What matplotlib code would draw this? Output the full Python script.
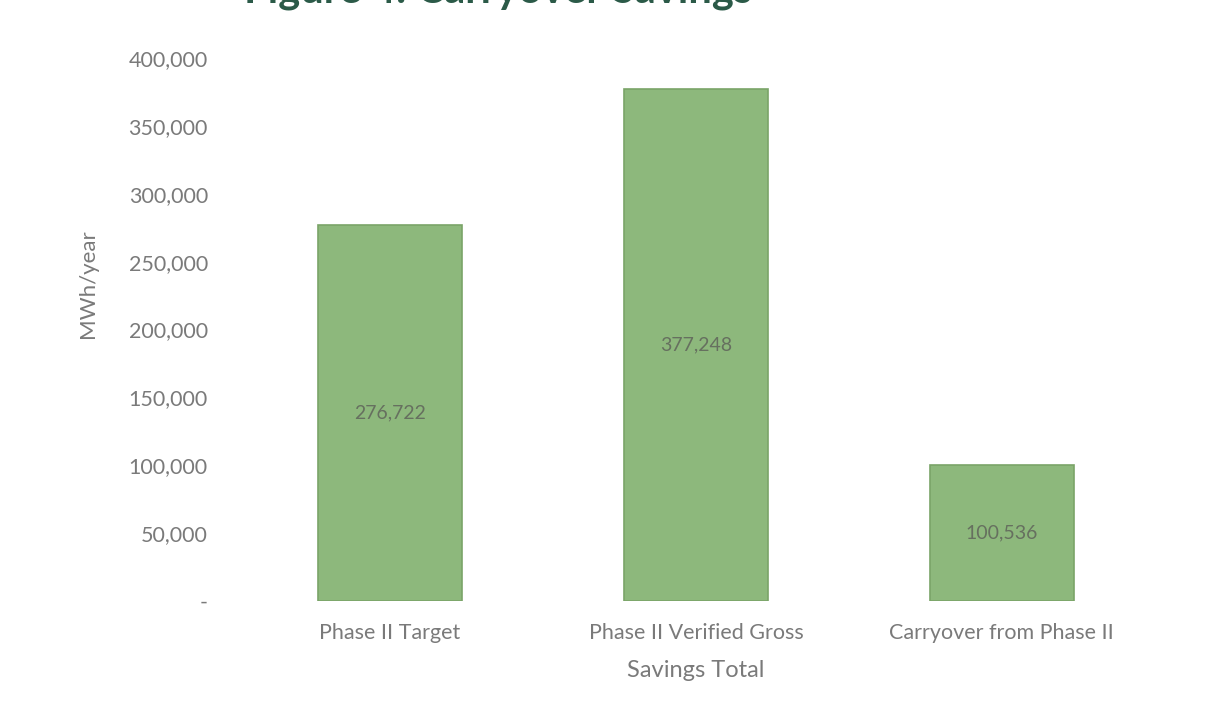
import matplotlib
matplotlib.use("Agg")
import matplotlib.pyplot as plt
from matplotlib.ticker import FuncFormatter

# Chart data
categories = ["Phase II Target", "Phase II Verified Gross", "Carryover from Phase II"]
savings_mwh = [276722, 377248, 100536]
y_ticks = [0, 50000, 100000, 150000, 200000, 250000, 300000, 350000, 400000]

title_text = "Figure 4: Carryover Savings"
y_label = "MWh/year"
x_label = "Savings Total"

plt.rcParams["font.family"] = ["Lato", "DejaVu Sans"]

fig = plt.figure(figsize=(12.22, 7.02), dpi=100, facecolor="white")
ax = fig.add_axes([0.194, 0.1439, 0.751, 0.7735])

x_pos = list(range(len(categories)))
bars = ax.bar(x_pos, savings_mwh, width=0.47, color="#8db87c",
              edgecolor="#7aa468", linewidth=1.2)

# value labels in the middle of each bar
for bar, val in zip(bars, savings_mwh):
    ax.text(bar.get_x() + bar.get_width() / 2, val / 2, f"{val:,}",
            ha="center", va="center", fontsize=14, color="#66705f")

ax.set_xlim(-0.5, 2.5)
ax.set_ylim(0, 400000)
ax.set_yticks(y_ticks)
ax.yaxis.set_major_formatter(FuncFormatter(lambda v, p: "-" if v == 0 else f"{int(v):,}"))
ax.set_xticks(x_pos)
ax.set_xticklabels(categories)

ax.tick_params(axis="both", length=0, labelsize=15.5, colors="#7a7a7a")
ax.tick_params(axis="y", pad=21)
ax.tick_params(axis="x", pad=16)

for s in ax.spines.values():
    s.set_visible(False)

ax.set_ylabel(y_label, fontsize=16, color="#7a7a7a")
ax.yaxis.set_label_coords(-0.152, 0.585)
ax.set_xlabel(x_label, fontsize=17, color="#7a7a7a", labelpad=12)

# title cut off at the top edge, as in the scanned source
fig.text(0.2, 1 - 3 / 702, title_text, fontsize=30, fontweight="bold",
         color="#2b5a48", ha="left", va="baseline")

fig.savefig("out.png", dpi=100, facecolor="white")
